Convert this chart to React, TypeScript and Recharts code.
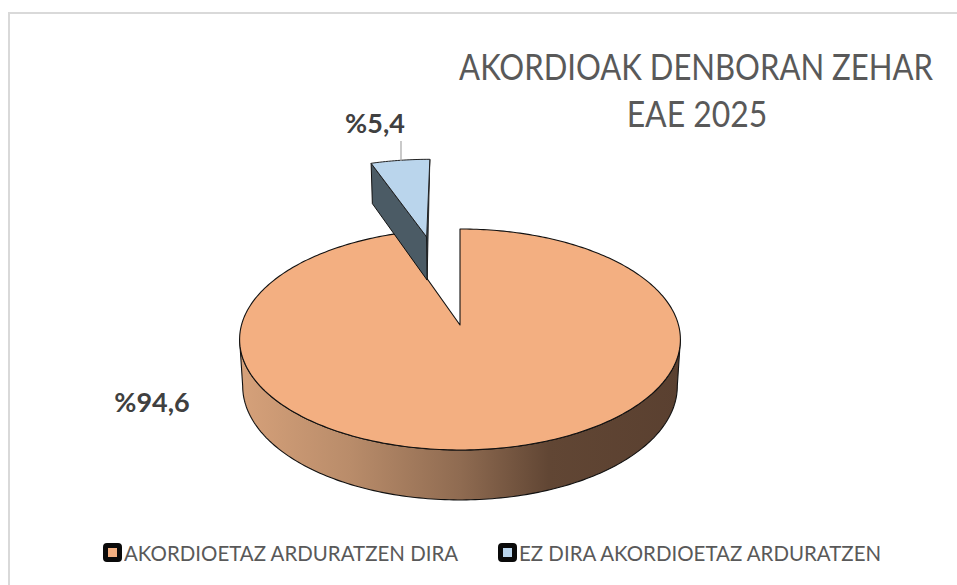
import React from "react";
import { PieChart, Pie, Legend } from "recharts";

const categories = ["AKORDIOETAZ ARDURATZEN DIRA", "EZ DIRA AKORDIOETAZ ARDURATZEN"];
const shares = [94.6, 5.4];
const shareLabels = ["%94,6", "%5,4"];
const colors = ["#F3AF81", "#BAD5EC"];
const titleLines = ["AKORDIOAK DENBORAN ZEHAR", "EAE 2025"];

const data = categories.map((name, i) => ({ name, value: shares[i], fill: colors[i] }));

const FONT = "Lato, 'Open Sans', sans-serif";
const K = 0.131;
const A = 108.6;
const EXPLODE = 0.92;

// Perspective view of the unit disc: u to the right, v away from the viewer, z downward.
function project(cx: number, cy: number, B: number, u: number, v: number, z = 0) {
  const w = 1 + K * v;
  return {
    x: cx + ((B * u) / w) * (1 - 0.014 * z),
    y: cy - (A * v) / w + (z * 46.1) / (1 + 0.0775 * v),
  };
}

const toPath = (pts: { x: number; y: number }[]) =>
  pts.map((p, i) => `${i ? "L" : "M"}${p.x.toFixed(2)} ${p.y.toFixed(2)}`).join(" ") + " Z";

function arc(from: number, to: number) {
  const n = Math.max(2, Math.ceil(Math.abs(to - from)));
  return Array.from({ length: n + 1 }, (_, i) => ((from + ((to - from) * i) / n) * Math.PI) / 180);
}

function Slice3D(props: any) {
  const { cx, cy, outerRadius, startAngle, endAngle, fill, name } = props;
  const small = name === categories[1];
  const a0 = 90 - startAngle;
  const a1 = 90 - endAngle;
  const mid = (((a0 + a1) / 2) * Math.PI) / 180;
  const du = small ? EXPLODE * Math.sin(mid) : 0;
  const dv = small ? EXPLODE * Math.cos(mid) : 0;
  const P = (t: number, r: number, z = 0) =>
    project(small ? cx - 3 : cx, cy, outerRadius, du + r * Math.sin(t), dv + r * Math.cos(t), z);

  const top = [P(0, 0), ...arc(a0, a1).map((t) => P(t, 1))];

  if (small) {
    const t = (a0 * Math.PI) / 180;
    const wall = [P(t, 1), P(t, 0), P(t, 0, 1), P(t, 1, 1)];
    const tr = (a1 * Math.PI) / 180;
    const rightWall = [P(tr, 1), P(tr, 0), P(tr, 0, 1)];
    return (
      <g>
        <path d={toPath(rightWall)} fill="#4B5B65" stroke="#111" strokeWidth={0.8} />
        <path d={toPath(wall)} fill="#4B5B65" stroke="#111" strokeWidth={1} strokeLinejoin="round" />
        <path d={toPath(top)} fill={fill} stroke="#222" strokeWidth={1} strokeLinejoin="round" />
      </g>
    );
  }

  const front = arc(97.5, 262.5);
  const wall = [...front.map((t) => P(t, 1)), ...[...front].reverse().map((t) => P(t, 1, 1))];
  return (
    <g>
      <defs>
        <linearGradient id="mainWall" gradientUnits="userSpaceOnUse" x1={240} x2={681} y1={0} y2={0}>
          <stop offset="0" stopColor="#D6A17A" />
          <stop offset="0.25" stopColor="#B98C6A" />
          <stop offset="0.5" stopColor="#8F6B51" />
          <stop offset="0.7" stopColor="#614634" />
          <stop offset="1" stopColor="#5A4030" />
        </linearGradient>
      </defs>
      <path d={toPath(wall)} fill="url(#mainWall)" stroke="#111" strokeWidth={1.1} strokeLinejoin="round" />
      <path d={toPath(top)} fill={fill} stroke="#111" strokeWidth={1.1} strokeLinejoin="round" />
    </g>
  );
}

function SliceLabel(props: any) {
  const { cx, cy, index } = props;
  const small = index === 1;
  return (
    <g>
      {small && <line x1={cx - 59} x2={cx - 59} y1={cy - 184} y2={cy - 164} stroke="#A6A6A6" strokeWidth={1.2} />}
      <text
        x={cx + (small ? -85 : -308)}
        y={cy + (small ? -199 : 80)}
        textAnchor="middle"
        dominantBaseline="middle"
        fontFamily={FONT}
        fontWeight={700}
        fontSize={27}
        fill="#404040"
      >
        {shareLabels[index]}
      </text>
    </g>
  );
}

function LegendRow({ payload }: any) {
  const items = payload && payload.length ? payload : data.map((d) => ({ value: d.name, color: d.fill }));
  return (
    <div style={{ position: "relative", height: 30, fontFamily: FONT, fontSize: 22, color: "#595959" }}>
      {items.map((it: any, i: number) => (
        <div
          key={it.value}
          style={{ position: "absolute", left: i ? 498 : 103, top: 0, display: "flex", alignItems: "center", whiteSpace: "nowrap" }}
        >
          <span
            style={{
              boxSizing: "border-box",
              width: 19,
              height: 19,
              background: it.color,
              border: "5px solid #0a0a0a",
              borderRadius: 4,
              marginRight: 2,
            }}
          />
          <span style={{ display: "inline-block", transform: "scaleX(0.93)", transformOrigin: "left center" }}>{it.value}</span>
        </div>
      ))}
    </div>
  );
}

export default function App() {
  return (
    <div style={{ position: "absolute", left: 0, top: 0, width: 957, height: 585, background: "#fff", overflow: "hidden" }}>
      <PieChart width={957} height={585} margin={{ top: 0, right: 0, bottom: 0, left: 0 }}>
        <path d="M9 585 L9 13 L957 13" fill="none" stroke="#D9D9D9" strokeWidth={2} />
        {titleLines.map((line, i) => (
          <g key={line} transform={`translate(${i ? 697 : 696} ${80 + i * 47}) scale(${i ? 0.875 : 0.851} 1)`}>
            <text x={0} y={0} textAnchor="middle" fontFamily={FONT} fontSize={36.5} fill="#595959">
              {line}
            </text>
          </g>
        ))}
        <Pie
          data={data}
          dataKey="value"
          nameKey="name"
          cx={460}
          cy={325}
          outerRadius={218.5}
          startAngle={90}
          endAngle={-270}
          isAnimationActive={false}
          shape={Slice3D}
          label={SliceLabel}
          labelLine={false}
        />
        <Legend content={LegendRow} wrapperStyle={{ position: "absolute", left: 0, top: 539, width: 957 }} />
      </PieChart>
    </div>
  );
}
